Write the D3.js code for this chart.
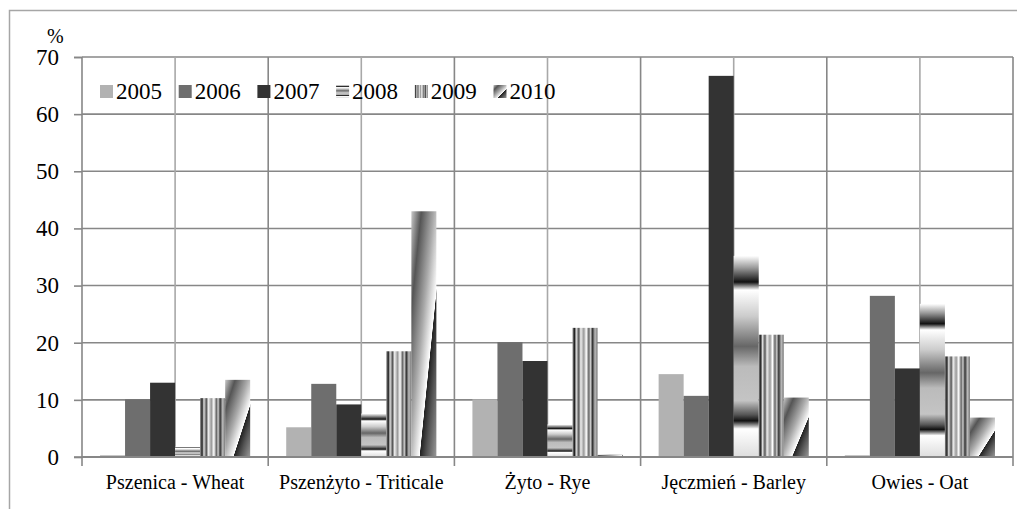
<!DOCTYPE html>
<html>
<head>
<meta charset="utf-8">
<script src="https://cdn.jsdelivr.net/npm/d3@7"></script>
<style>
  body { margin: 0; background: #fff; }
  svg text { font-family: 'Liberation Serif', 'Times New Roman', Times, 'DejaVu Serif', serif; fill: #000; }
</style>
</head>
<body>
<svg id="chart" width="1017" height="509"></svg>
<script>
// categories and series
const categories = ["Pszenica - Wheat", "Pszenżyto - Triticale", "Żyto - Rye", "Jęczmień - Barley", "Owies - Oat"]
const years = ["2005", "2006", "2007", "2008", "2009", "2010"]
const v2005 = [0.3, 5.2, 10.1, 14.5, 0.3]
const v2006 = [10.1, 12.8, 20.1, 10.7, 28.2]
const v2007 = [13.0, 9.2, 16.8, 66.7, 15.5]
const v2008 = [1.8, 7.6, 5.7, 35.2, 26.8]
const v2009 = [10.3, 18.5, 22.6, 21.4, 17.6]
const v2010 = [13.5, 43.0, 0.4, 10.4, 6.9]
const yTicks = [0, 10, 20, 30, 40, 50, 60, 70]

const series = [v2005, v2006, v2007, v2008, v2009, v2010]
const FONT = "'Liberation Serif', 'Times New Roman', Times, 'DejaVu Serif', serif"

var svg = d3.select('#chart').attr('font-family', FONT)
var margin = { top: 57, right: 4, bottom: 52, left: 82 }
var width = 1017 - margin.left - margin.right
var height = 509 - margin.top - margin.bottom

// gradients (Excel-like fills)
var defs = svg.append('defs')
function grad(id, x1, y1, x2, y2, stops) {
    var g = defs.append('linearGradient').attr('id', id)
        .attr('x1', x1).attr('y1', y1).attr('x2', x2).attr('y2', y2)
    stops.forEach(s => g.append('stop').attr('offset', s[0]).attr('stop-color', s[1]))
}
grad('g2008', 0, 0, 0, 1, [[0, '#fff'], [0.06, '#999'], [0.13, '#111'], [0.17, '#fff'], [0.3, '#ccc'],
    [0.45, '#666'], [0.55, '#bbb'], [0.72, '#c4c4c4'], [0.79, '#555'], [0.82, '#111'], [0.86, '#fff'], [1, '#ddd']])
grad('g2009', 0, 0, 1, 0, [[0, '#888'], [0.08, '#222'], [0.15, '#ddd'], [0.25, '#555'], [0.33, '#eee'],
    [0.45, '#999'], [0.55, '#fff'], [0.65, '#666'], [0.72, '#ccc'], [0.8, '#333'], [0.9, '#bbb'], [1, '#777']])
grad('g2010', 0, 0, 1, 1, [[0, '#c8c8c8'], [0.2, '#555'], [0.45, '#aaa'], [0.66, '#fff'], [0.67, '#222'],
    [0.8, '#555'], [1, '#999']])

const fills = ['#b2b2b2', '#6e6e6e', '#333333', 'url(#g2008)', 'url(#g2009)', 'url(#g2010)']

// outer frame
svg.append('path')
    .attr('d', 'M9.5,509 V10.5 H1017')
    .attr('fill', 'none').attr('stroke', '#a6a6a6').attr('stroke-width', 1.5)

var x = d3.scaleBand().domain(categories).range([0, width])
var xi = d3.scaleBand().domain(years).range([0, x.bandwidth()]).paddingOuter(0.72)
var y = d3.scaleLinear().domain([0, 70]).range([height, 0])

var g = svg.append('g').attr('transform', `translate(${margin.left},${margin.top})`)

// horizontal gridlines
g.selectAll('.hgrid').data(yTicks.filter(d => d > 0)).enter().append('line')
    .attr('x1', 0).attr('x2', width)
    .attr('y1', d => y(d)).attr('y2', d => y(d))
    .attr('stroke', '#878787').attr('stroke-width', 1.6)

// vertical gridlines: light at category centres, darker at boundaries
g.selectAll('.vmid').data(categories).enter().append('line')
    .attr('x1', d => x(d) + x.bandwidth() / 2).attr('x2', d => x(d) + x.bandwidth() / 2)
    .attr('y1', 0).attr('y2', height)
    .attr('stroke', '#a8a8a8').attr('stroke-width', 1.6)
g.selectAll('.vbnd').data(categories).enter().append('line')
    .attr('x1', (d, i) => x.bandwidth() * (i + 1)).attr('x2', (d, i) => x.bandwidth() * (i + 1))
    .attr('y1', 0).attr('y2', height)
    .attr('stroke', '#878787').attr('stroke-width', 1.6)

// bars
series.forEach((vals, si) => {
    g.selectAll('.bar' + si).data(vals).enter().append('rect')
        .attr('x', (d, i) => x(categories[i]) + xi(years[si]))
        .attr('width', xi.bandwidth())
        .attr('y', d => y(d))
        .attr('height', d => y(0) - y(d))
        .attr('fill', fills[si])
})

// axes
var yAxis = d3.axisLeft(y).tickValues(yTicks).tickSize(8).tickPadding(15).tickFormat(d3.format('d'))
var ya = g.append('g').call(yAxis).attr('font-family', FONT).attr('font-size', 23)
ya.select('.domain').attr('stroke', '#878787').attr('stroke-width', 1.6).attr('d', `M-8,0.5H0V${height}H-8`)
ya.selectAll('.tick line').attr('stroke', '#878787').attr('stroke-width', 1.6)
ya.selectAll('.tick text').attr('fill', '#000')

var bounds = [0].concat(categories.map((c, i) => x.bandwidth() * (i + 1)))
var xa = g.append('g').attr('transform', `translate(0,${height})`)
xa.append('line').attr('x1', 0).attr('x2', width).attr('stroke', '#878787').attr('stroke-width', 1.8)
xa.selectAll('.xt').data(bounds).enter().append('line')
    .attr('x1', d => d).attr('x2', d => d).attr('y1', 0).attr('y2', 9)
    .attr('stroke', '#878787').attr('stroke-width', 1.6)
xa.selectAll('.xl').data(categories).enter().append('text')
    .attr('x', d => x(d) + x.bandwidth() / 2)
    .attr('y', 32)
    .attr('text-anchor', 'middle')
    .attr('font-size', 20)
    .text(d => d)

// % unit label
svg.append('text').attr('x', 47).attr('y', 43).attr('font-size', 20).text('%')

// legend
var legend = svg.append('g').attr('transform', 'translate(100,85)')
var li = legend.selectAll('g').data(years).enter().append('g')
    .attr('transform', (d, i) => `translate(${i * 78.7},0)`)
li.append('rect').attr('width', 13).attr('height', 13).attr('fill', (d, i) => fills[i])
li.append('text').attr('x', 16).attr('y', 13.5).attr('font-size', 23).text(d => d)
</script>
</body>
</html>
